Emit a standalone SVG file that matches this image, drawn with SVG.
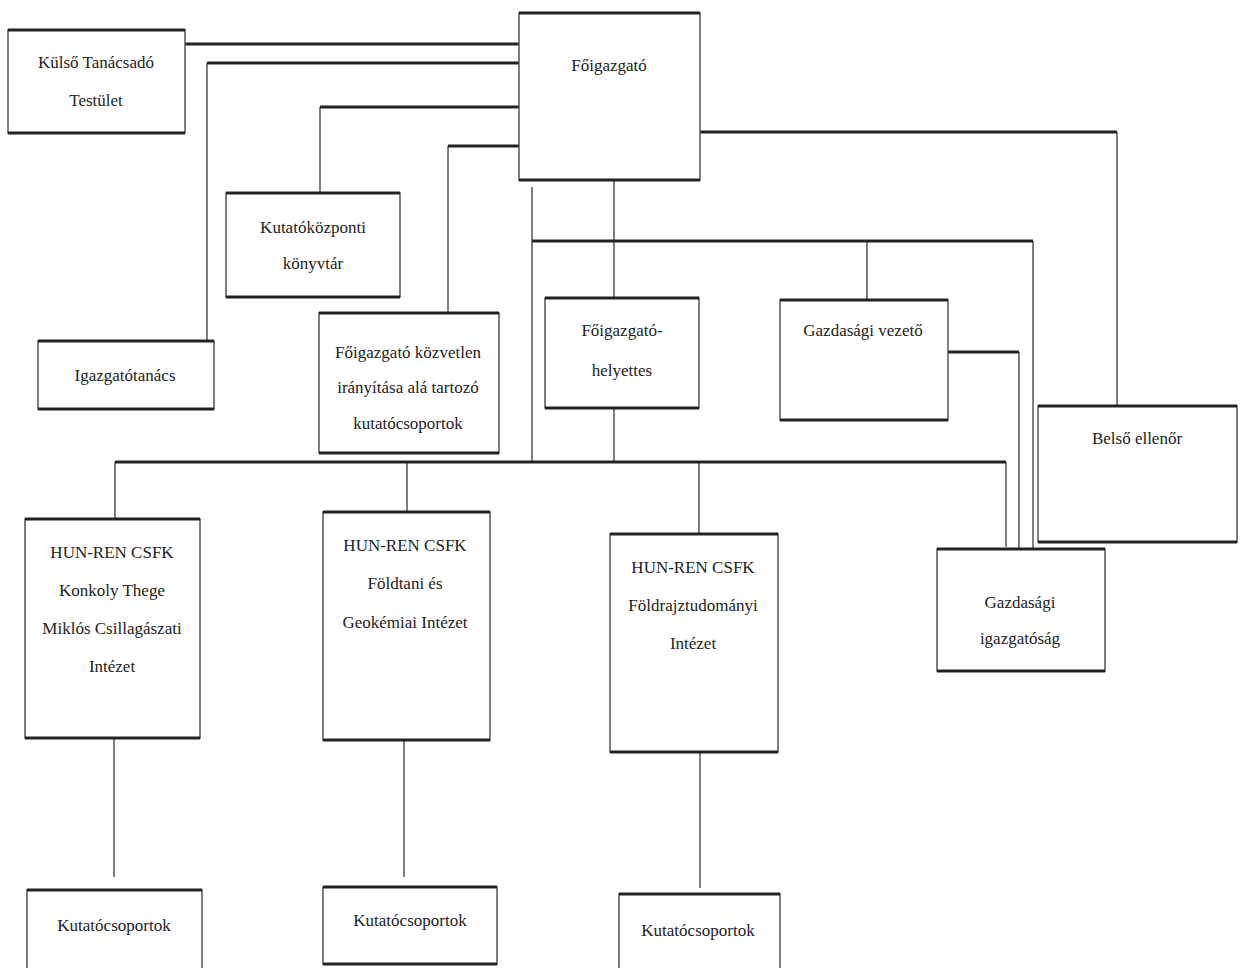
<svg xmlns="http://www.w3.org/2000/svg" width="1242" height="968" viewBox="0 0 1242 968">
<style>
.box{fill:#fff;stroke:#555;stroke-width:1.5}
.hb{fill:none;stroke:#222;stroke-width:3}
.t{font-family:"Liberation Serif","Times New Roman",serif;font-size:17px;fill:#222;text-anchor:middle}
.thick{fill:none;stroke:#222;stroke-width:3}
.thin{fill:none;stroke:#555;stroke-width:1.5}
</style>
<rect width="1242" height="968" fill="#fff"/>
<g id="connectors">
<path class="thin" d="M207,63 V341 M320,107 V193 M448,146 V313 M532,187 V462 M614,180 V298 M867,241 V300 M1117,132 V406 M1033,241 V549 M1019,352 V549 M1006,462 V547 M614,408 V462 M115,462 V519 M407,462 V512 M699,462 V534 M114,738 V877 M404,740 V877 M700,752 V888"/>
<path class="thick" d="M185,44 H519 M207,63 H519 M320,107 H519 M448,146 H519 M700,132 H1117 M532,241 H1033 M948,352 H1019 M115,462 H1006"/>
</g>
<g id="kulso">
<rect class="box" x="8" y="30" width="177" height="103"/>
<path class="hb" d="M8,30 H185 M8,133 H185"/>
<text class="t" x="96" y="68">Külső Tanácsadó</text>
<text class="t" x="96" y="106">Testület</text>
</g>
<g id="foigazgato">
<rect class="box" x="519" y="13" width="181" height="167"/>
<path class="hb" d="M519,13 H700 M519,180 H700"/>
<text class="t" x="609" y="71">Főigazgató</text>
</g>
<g id="konyvtar">
<rect class="box" x="226" y="193" width="174" height="104"/>
<path class="hb" d="M226,193 H400 M226,297 H400"/>
<text class="t" x="313" y="233">Kutatóközponti</text>
<text class="t" x="313" y="269">könyvtár</text>
</g>
<g id="igazgatotanacs">
<rect class="box" x="38" y="341" width="176" height="68"/>
<path class="hb" d="M38,341 H214 M38,409 H214"/>
<text class="t" x="125" y="381">Igazgatótanács</text>
</g>
<g id="kozvetlen">
<rect class="box" x="319" y="313" width="180" height="140"/>
<path class="hb" d="M319,313 H499 M319,453 H499"/>
<text class="t" x="408" y="358">Főigazgató közvetlen</text>
<text class="t" x="408" y="393">irányítása alá tartozó</text>
<text class="t" x="408" y="429">kutatócsoportok</text>
</g>
<g id="helyettes">
<rect class="box" x="545" y="298" width="154" height="110"/>
<path class="hb" d="M545,298 H699 M545,408 H699"/>
<text class="t" x="622" y="336">Főigazgató-</text>
<text class="t" x="622" y="376">helyettes</text>
</g>
<g id="gazdasagi-vezeto">
<rect class="box" x="780" y="300" width="168" height="120"/>
<path class="hb" d="M780,300 H948 M780,420 H948"/>
<text class="t" x="863" y="336">Gazdasági vezető</text>
</g>
<g id="belso-ellenor">
<rect class="box" x="1038" y="406" width="199" height="136"/>
<path class="hb" d="M1038,406 H1237 M1038,542 H1237"/>
<text class="t" x="1137" y="444">Belső ellenőr</text>
</g>
<g id="konkoly">
<rect class="box" x="25" y="519" width="175" height="219"/>
<path class="hb" d="M25,519 H200 M25,738 H200"/>
<text class="t" x="112" y="558">HUN-REN CSFK</text>
<text class="t" x="112" y="596">Konkoly Thege</text>
<text class="t" x="112" y="634">Miklós Csillagászati</text>
<text class="t" x="112" y="672">Intézet</text>
</g>
<g id="foldtani">
<rect class="box" x="323" y="512" width="167" height="228"/>
<path class="hb" d="M323,512 H490 M323,740 H490"/>
<text class="t" x="405" y="551">HUN-REN CSFK</text>
<text class="t" x="405" y="589">Földtani és</text>
<text class="t" x="405" y="628">Geokémiai Intézet</text>
</g>
<g id="foldrajz">
<rect class="box" x="610" y="534" width="168" height="218"/>
<path class="hb" d="M610,534 H778 M610,752 H778"/>
<text class="t" x="693" y="573">HUN-REN CSFK</text>
<text class="t" x="693" y="611">Földrajztudományi</text>
<text class="t" x="693" y="649">Intézet</text>
</g>
<g id="gazdasagi-igazgatosag">
<rect class="box" x="937" y="549" width="168" height="122"/>
<path class="hb" d="M937,549 H1105 M937,671 H1105"/>
<text class="t" x="1020" y="608">Gazdasági</text>
<text class="t" x="1020" y="644">igazgatóság</text>
</g>
<g id="kutatocsoportok-1">
<rect class="box" x="27" y="890" width="175" height="82"/>
<path class="hb" d="M27,890 H202"/>
<text class="t" x="114" y="931">Kutatócsoportok</text>
</g>
<g id="kutatocsoportok-2">
<rect class="box" x="323" y="887" width="174" height="77"/>
<path class="hb" d="M323,887 H497 M323,964 H497"/>
<text class="t" x="410" y="926">Kutatócsoportok</text>
</g>
<g id="kutatocsoportok-3">
<rect class="box" x="619" y="894" width="161" height="80"/>
<path class="hb" d="M619,894 H780"/>
<text class="t" x="698" y="936">Kutatócsoportok</text>
</g>
</svg>
